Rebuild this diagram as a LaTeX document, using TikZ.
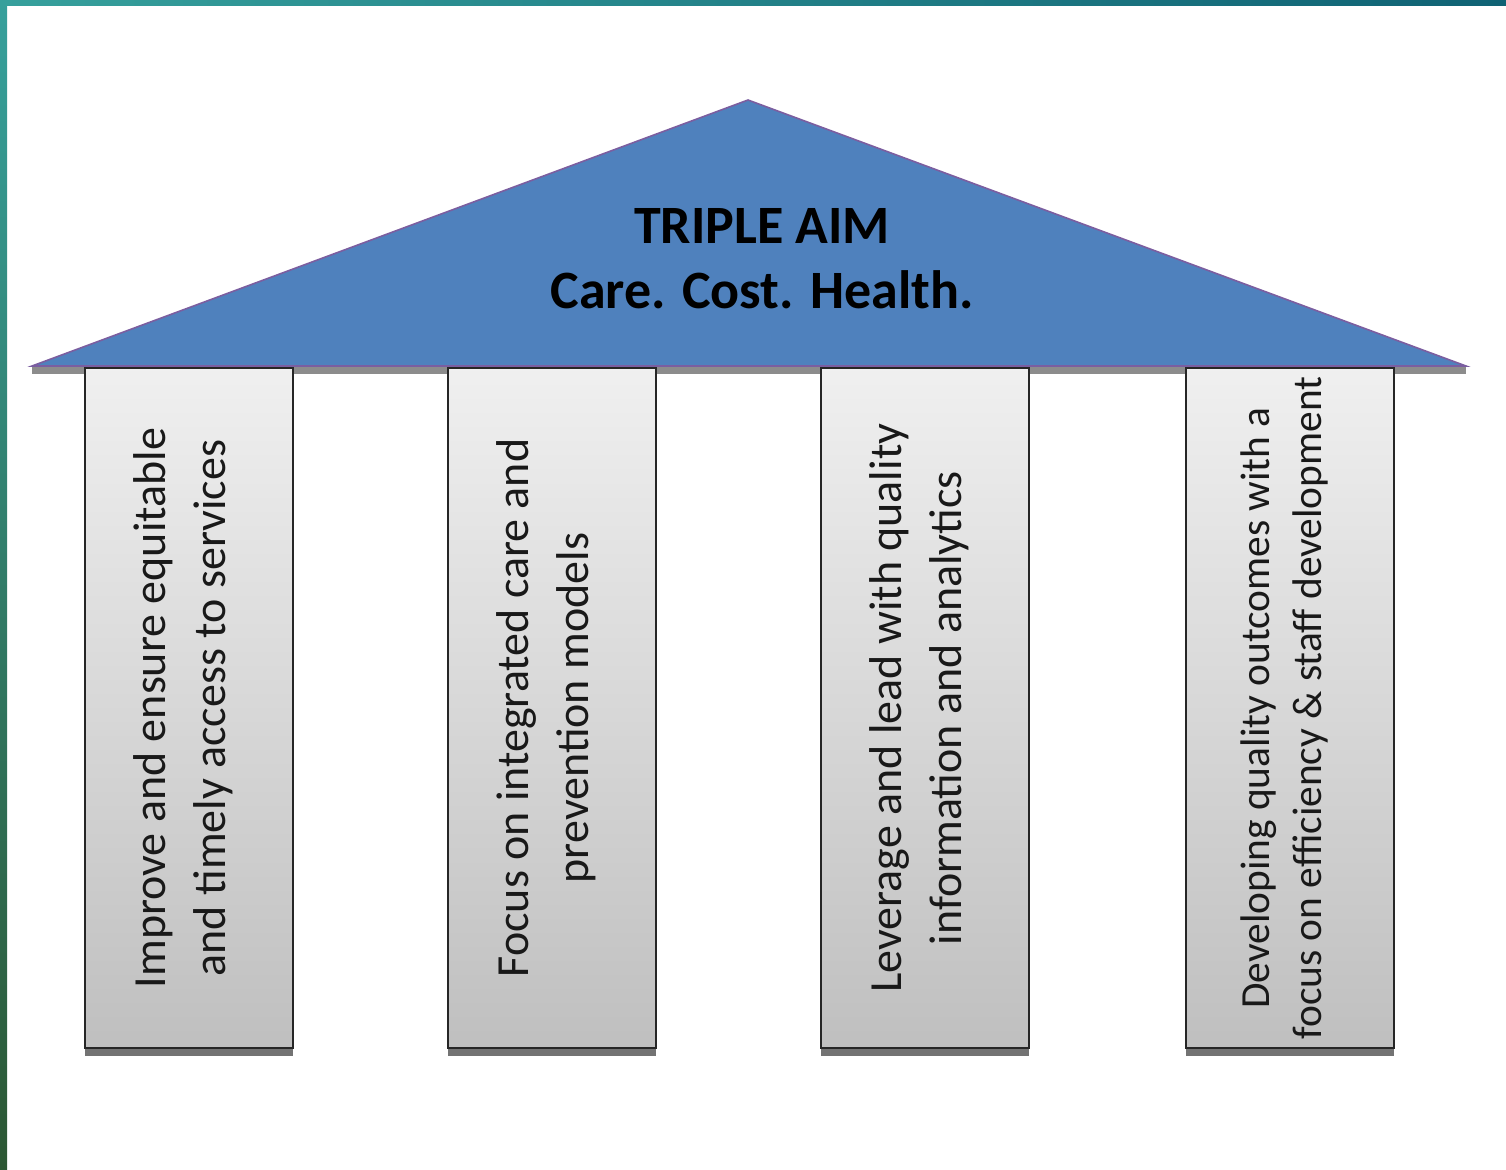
\documentclass[tikz,border=0pt]{standalone}
\usepackage{fontspec}
\setmainfont{Carlito}
\usetikzlibrary{calc,positioning,shadows}
\definecolor{roofblue}{HTML}{4F81BD}
\definecolor{roofline}{HTML}{7B5EA0}
\definecolor{frametop}{HTML}{36A09C}
\definecolor{frameend}{HTML}{0F6274}
\definecolor{framelow}{HTML}{2C5733}

\begin{document}
\begin{tikzpicture}[x=0.5pt,y=-0.5pt]
\tikzstyle{pillar}=[draw=black!85, line width=1pt, top color=black!6, bottom color=black!25, minimum width=104pt, minimum height=340pt, inner sep=0pt, drop shadow={shadow xshift=0pt, shadow yshift=-4pt, fill=black!55, opacity=1}]
\tikzstyle{ptext}=[rotate=90, align=center, text=black!90]
\tikzstyle{roofhead}=[anchor=base, font=\bfseries\fontsize{27}{33}\selectfont]
\useasboundingbox (0,0) rectangle (1506,1169);
\fill[white] (0,0) rectangle (1506,1169);
% frame of the slide
\shade[top color=frametop, bottom color=framelow] (0,0) rectangle (7,1169);
\shade[left color=frametop, right color=frameend] (0,0) rectangle (1506,5);
% roof
\coordinate (rl) at (32,366);
\coordinate (rt) at (748,100);
\coordinate (rr) at (1466,366);
\fill[black!45] (rl) rectangle ([yshift=-4pt]rr);
\draw[roofline, fill=roofblue, line width=0.8pt] (rl) -- (rt) -- (rr) -- cycle;
\node[roofhead] (aim) at (762,243) {TRIPLE AIM};
\node[roofhead] (motto) at (762,308) {Care. Cost. Health.};
% pillars
\foreach \i/\x/\fs/\ls/\txt in {1/189/23/30/{Improve and ensure equitable\\and timely access to services},
                        2/552/23/30/{Focus on integrated care and\\prevention models},
                        3/925/23/30/{Leverage and lead with quality\\information and analytics},
                        4/1290/20.7/26/{Developing quality outcomes with a\\focus on efficiency \& staff development}}{
\node[pillar] (p\i) at (\x,708) {};
\node[ptext, font=\fontsize{\fs}{\ls}\selectfont] (t\i) at ([xshift=-3pt]p\i.center) {\txt};
}
\end{tikzpicture}
\end{document}
